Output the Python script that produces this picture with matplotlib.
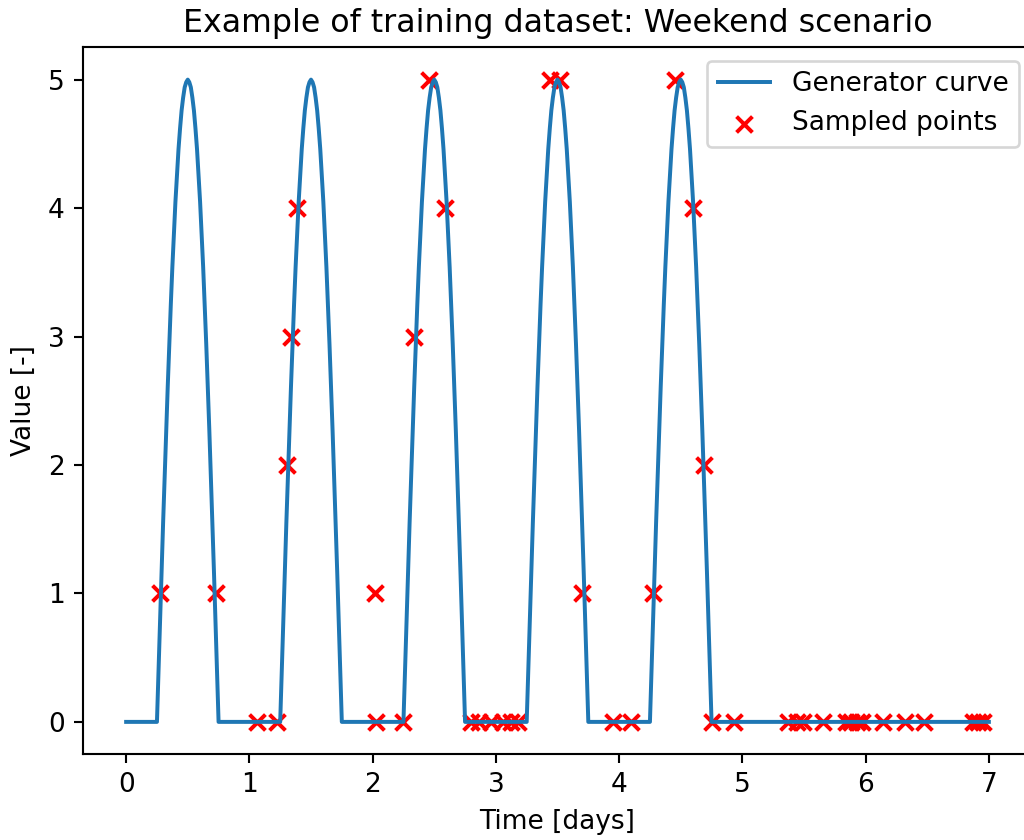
import matplotlib
matplotlib.use('Agg')
import matplotlib.pyplot as plt
import numpy as np

# working days (Mon-Fri) get a daytime pulse, the weekend stays at zero
pulse_starts = [0.25, 1.25, 2.25, 3.25, 4.25]
pulse_length = 0.5
time_span = [0.0, 7.0]

# shape of one daytime pulse, evenly spaced over its length
pulse_values = [0.0, 0.39, 0.78, 1.17, 1.55, 1.91, 2.27, 2.61, 2.94, 3.25,
                3.54, 3.80, 4.05, 4.26, 4.46, 4.62, 4.76, 4.86, 4.94, 4.98,
                5.0,
                4.98, 4.94, 4.86, 4.76, 4.62, 4.46, 4.26, 4.05, 3.80, 3.54,
                3.25, 2.94, 2.61, 2.27, 1.91, 1.55, 1.17, 0.78, 0.39, 0.0]

# sampled points used for training
sample_time = [0.276, 0.73, 1.06, 1.227, 1.308, 1.336, 1.384,
               2.02, 2.025, 2.249, 2.338, 2.457, 2.587,
               2.80, 2.86, 2.96, 3.06, 3.12, 3.18, 3.44, 3.52, 3.696,
               3.947, 4.093, 4.277, 4.45, 4.60, 4.688, 4.75, 4.93,
               5.37, 5.44, 5.49, 5.655, 5.84, 5.88, 5.93, 5.97,
               6.14, 6.32, 6.47, 6.87, 6.91, 6.95]
sample_value = [1, 1, 0, 0, 2, 3, 4,
                1, 0, 0, 3, 5, 4,
                0, 0, 0, 0, 0, 0, 5, 5, 1,
                0, 0, 1, 5, 4, 2, 0, 0,
                0, 0, 0, 0, 0, 0, 0, 0,
                0, 0, 0, 0, 0, 0]

# assemble the generator curve from the pulse shape
offsets = np.linspace(0, pulse_length, len(pulse_values))
curve_t = [time_span[0]]
curve_v = [0.0]
for start in pulse_starts:
    curve_t += list(start + offsets)
    curve_v += pulse_values
curve_t.append(time_span[1])
curve_v.append(0.0)

dpi = 190
fig = plt.figure(figsize=(1024 / dpi, 840 / dpi), dpi=dpi)
ax = fig.add_axes([83 / 1024, 86 / 840, 949 / 1024, 706.5 / 840])

ax.plot(curve_t, curve_v, label='Generator curve')
ax.scatter(sample_time, sample_value, marker='x', color='red', label='Sampled points')

ax.set_title('Example of training dataset: Weekend scenario')
ax.set_xlabel('Time [days]')
ax.set_ylabel('Value [-]')
ax.legend(loc='upper right')
ax.spines['right'].set_visible(False)

fig.savefig('out.png', dpi=dpi)
